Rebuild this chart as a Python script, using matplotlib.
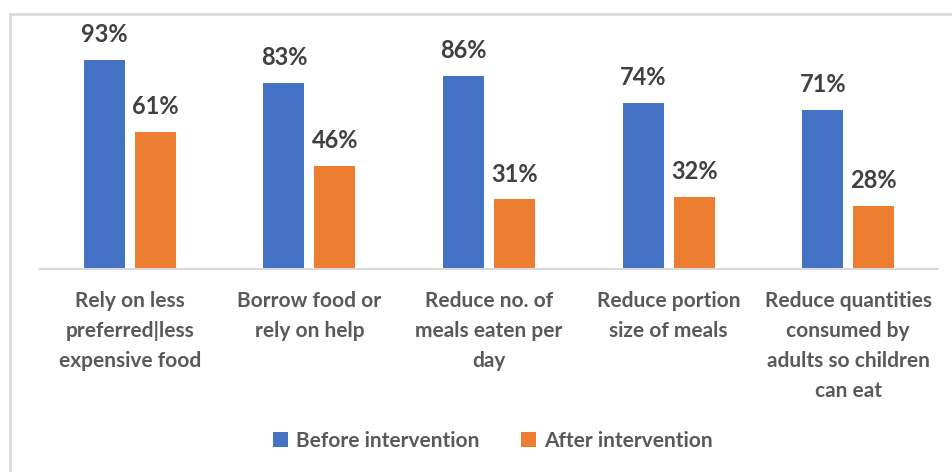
import matplotlib.pyplot as plt
import numpy as np
from matplotlib.patches import Rectangle

categories = ["Rely on less\npreferred|less\nexpensive food",
              "Borrow food or\nrely on help",
              "Reduce no. of\nmeals eaten per\nday",
              "Reduce portion\nsize of meals",
              "Reduce quantities\nconsumed by\nadults so children\ncan eat"]
before = [93, 83, 86, 74, 71]
after = [61, 46, 31, 32, 28]
series_names = ["Before intervention", "After intervention"]

blue = '#4472C4'
orange = '#ED7D31'
grey_txt = '#595959'

plt.rcParams['font.family'] = ['Lato', 'DejaVu Sans']
plt.rcParams['font.weight'] = 'bold'

fig = plt.figure(figsize=(9.52, 4.72), dpi=100)
ax = fig.add_axes([40/952, 1-269/472, 898/952, 247/472])

# chart frame (light grey border, cut off at right/bottom like the screenshot)
fig.patches.append(Rectangle((10/952, -0.1), 1.1, 1.1-14/472,
                             transform=fig.transFigure, fill=False,
                             edgecolor='#d9d9d9', linewidth=2))

x = np.arange(len(categories))
w = 0.228
off = 0.142
b1 = ax.bar(x - off, before, w, color=blue, label=series_names[0])
b2 = ax.bar(x + off, after, w, color=orange, label=series_names[1])

for bars in (b1, b2):
    for r in bars:
        ax.annotate(f"{r.get_height():.0f}%", (r.get_x() + r.get_width()/2, r.get_height()),
                    xytext=(0, 10), textcoords='offset points', ha='center', va='bottom',
                    fontsize=17, fontweight='bold', color='#404040', clip_on=False)

ax.set_xlim(-0.5, len(categories) - 0.5)
ax.set_ylim(0, 110)
ax.set_yticks([])
ax.set_xticks(x)
ax.set_xticklabels(categories, fontsize=15, color=grey_txt, linespacing=1.62)
ax.tick_params(axis='x', length=0, pad=16)
for s in ['top', 'left', 'right']:
    ax.spines[s].set_visible(False)
ax.spines['bottom'].set_color('#d9d9d9')
ax.spines['bottom'].set_linewidth(1.5)

leg = fig.legend(loc='center', bbox_to_anchor=(493/952, 1-441/472), ncol=2, frameon=False,
                 fontsize=15, handlelength=0.7, handleheight=0.7, columnspacing=2.0,
                 handletextpad=0.4)
for t in leg.get_texts():
    t.set_color(grey_txt)

fig.savefig('out.png', dpi=100)
